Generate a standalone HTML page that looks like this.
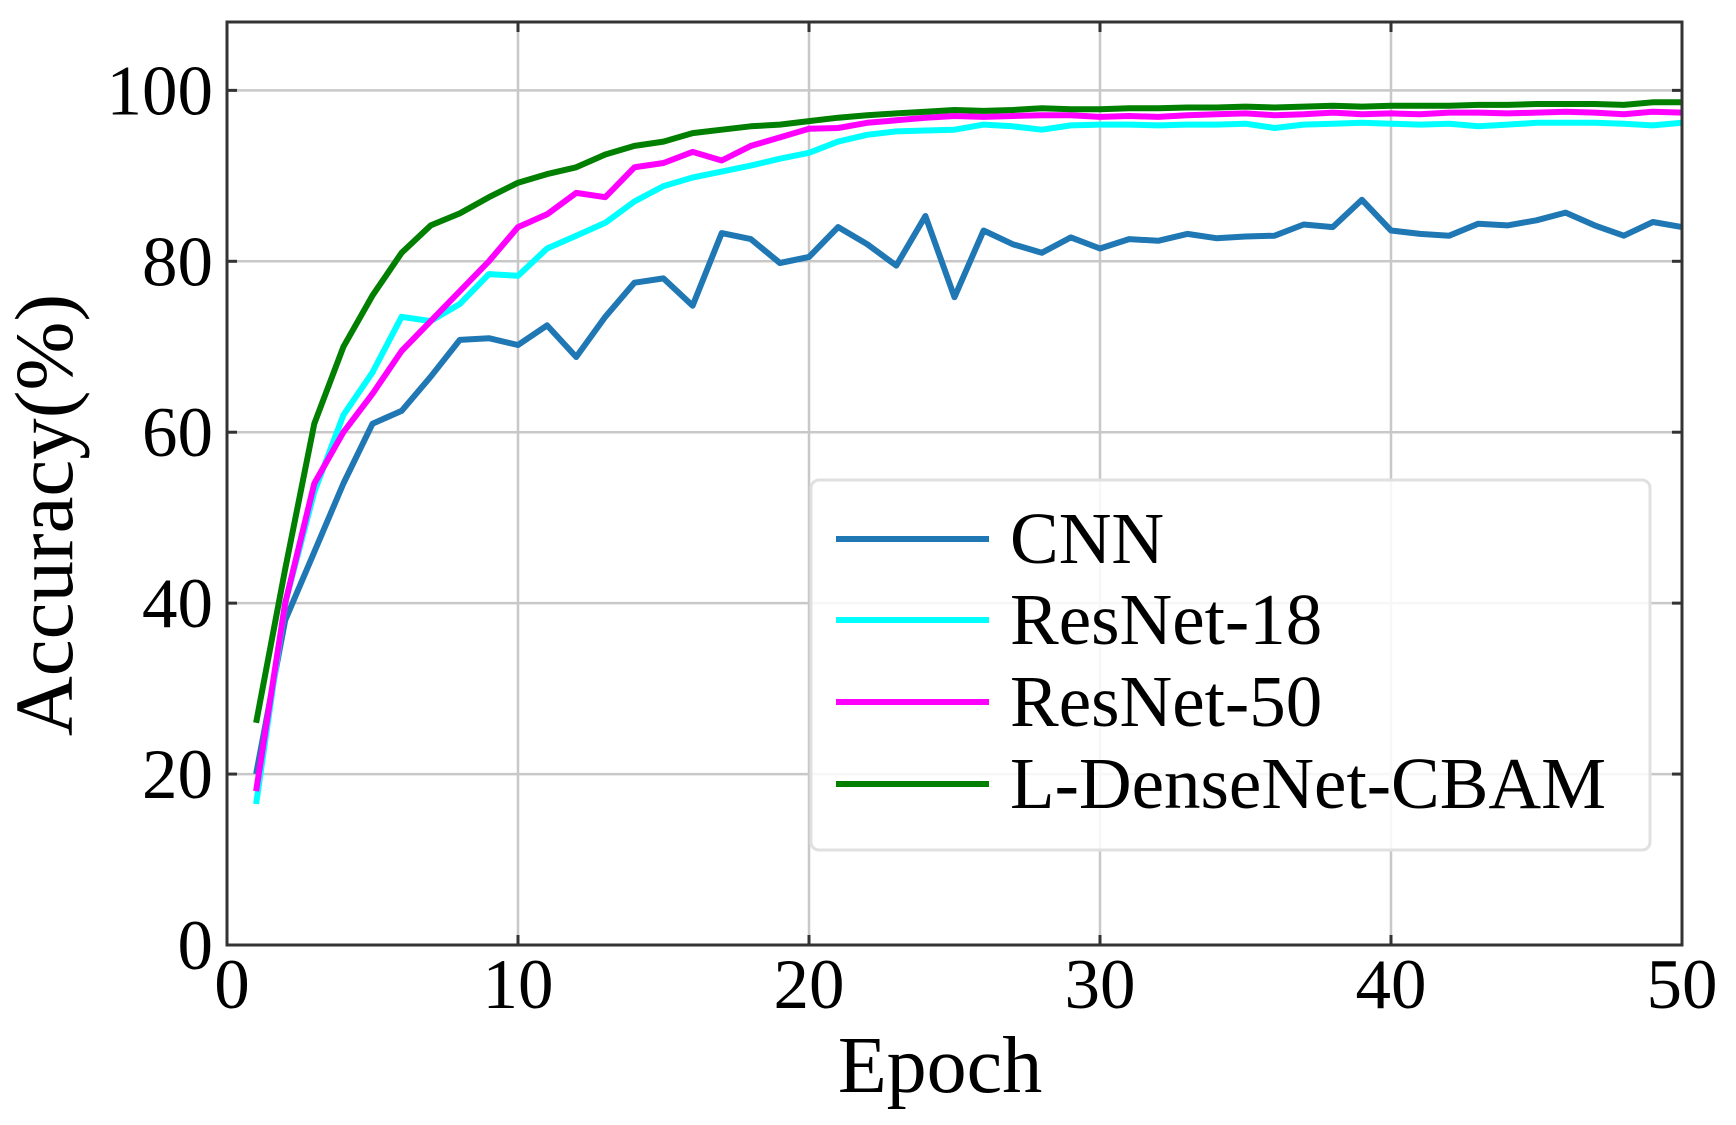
<!DOCTYPE html>
<html><head><meta charset="utf-8"><style>
html,body{margin:0;padding:0;background:#fff;}
svg{display:block;font-family:"Liberation Serif",serif;}
</style></head><body>
<svg id="s" width="1736" height="1125" viewBox="0 0 1736 1125" xmlns="http://www.w3.org/2000/svg">
<g id="grid" stroke="#c8c8c8" stroke-width="2.5"></g>
<g id="series" fill="none" stroke-width="6" stroke-linejoin="round"></g>
<rect x="227" y="22" width="1455" height="923" fill="none" stroke="#333" stroke-width="3"/>
<g id="ticks" stroke="#333" stroke-width="3"></g>
<g id="labels" font-size="71" fill="#000"></g>
<text x="940" y="1092" font-size="80" text-anchor="middle">Epoch</text>
<text transform="translate(72,515) rotate(-90)" font-size="83" text-anchor="middle">Accuracy(%)</text>
<rect x="811" y="480" width="839" height="370" rx="8" fill="#fff" fill-opacity="0.85" stroke="#e0e0e0" stroke-width="3"/>
<g font-size="73">
<line x1="836" y1="539" x2="989" y2="539" stroke="#1f77b4" stroke-width="6"/><text x="1010" y="563">CNN</text>
<line x1="836" y1="620" x2="989" y2="620" stroke="#00ffff" stroke-width="6"/><text x="1010" y="644">ResNet-18</text>
<line x1="836" y1="702" x2="989" y2="702" stroke="#ff00ff" stroke-width="6"/><text x="1010" y="726">ResNet-50</text>
<line x1="836" y1="784" x2="989" y2="784" stroke="#007f00" stroke-width="6"/><text x="1010" y="808">L-DenseNet-CBAM</text>
</g>
</svg>
<script>
const X0=227,X1=1682,Y0=945,YT=22;
const fx=v=>X0+(X1-X0)*v/50, fy=v=>Y0-(Y0-YT)*v/108;
const NS="http://www.w3.org/2000/svg";
function el(p,t,a,txt){const e=document.createElementNS(NS,t);for(const k in a)e.setAttribute(k,a[k]);if(txt!==undefined)e.textContent=txt;document.getElementById(p).appendChild(e);}
for(let i=10;i<50;i+=10){el('grid','line',{x1:fx(i),x2:fx(i),y1:YT,y2:Y0});el('ticks','line',{x1:fx(i),x2:fx(i),y1:Y0,y2:Y0-10});el('ticks','line',{x1:fx(i),x2:fx(i),y1:YT,y2:YT+10});}
for(let v=20;v<=100;v+=20){el('grid','line',{x1:X0,x2:X1,y1:fy(v),y2:fy(v)});el('ticks','line',{x1:X0,x2:X0+10,y1:fy(v),y2:fy(v)});el('ticks','line',{x1:X1,x2:X1-10,y1:fy(v),y2:fy(v)});}
for(let v=0;v<=100;v+=20){el('labels','text',{x:X0-14,y:fy(v)+24,'text-anchor':'end'},String(v));}
for(let i=0;i<=50;i+=10){el('labels','text',{x:fx(i)+(i==0?5:0),y:1008,'text-anchor':'middle'},String(i));}
const cnn=[20,38,46,54,61,62.5,66.5,70.8,71,70.2,72.5,68.8,73.5,77.5,78,74.8,83.3,82.6,79.8,80.5,84,82,79.5,85.3,75.8,83.6,82,81,82.8,81.5,82.6,82.4,83.2,82.7,82.9,83,84.3,84,87.2,83.6,83.2,83,84.4,84.2,84.8,85.7,84.2,83,84.6,84];
const r18=[16.5,40,53,62,67,73.5,73,75,78.5,78.3,81.5,83,84.5,87,88.8,89.8,90.5,91.2,92,92.7,94,94.8,95.2,95.3,95.4,96,95.8,95.4,95.9,96,96,95.9,96,96,96.1,95.6,96,96.1,96.2,96.1,96,96.1,95.8,96,96.2,96.2,96.2,96.1,95.9,96.2];
const r50=[18,40,54,60,64.5,69.5,73,76.5,80,84,85.5,88,87.5,91,91.5,92.8,91.8,93.5,94.5,95.5,95.6,96.2,96.5,96.8,97,96.9,97,97.1,97.1,96.9,97,96.9,97.1,97.2,97.3,97.1,97.2,97.4,97.2,97.3,97.2,97.4,97.4,97.3,97.4,97.5,97.4,97.2,97.5,97.4];
const grn=[26,44,61,70,76,81,84.2,85.6,87.5,89.2,90.2,91,92.5,93.5,94,95,95.4,95.8,96,96.4,96.8,97.1,97.3,97.5,97.7,97.6,97.7,97.9,97.8,97.8,97.9,97.9,98,98,98.1,98,98.1,98.2,98.1,98.2,98.2,98.2,98.3,98.3,98.4,98.4,98.4,98.3,98.6,98.6];
[[cnn,'#1f77b4'],[r18,'#00ffff'],[r50,'#ff00ff'],[grn,'#007f00']].forEach(([d,c])=>{
el('series','polyline',{stroke:c,points:d.map((v,i)=>fx(i+1).toFixed(1)+','+fy(v).toFixed(1)).join(' ')});});
</script>
</body></html>
